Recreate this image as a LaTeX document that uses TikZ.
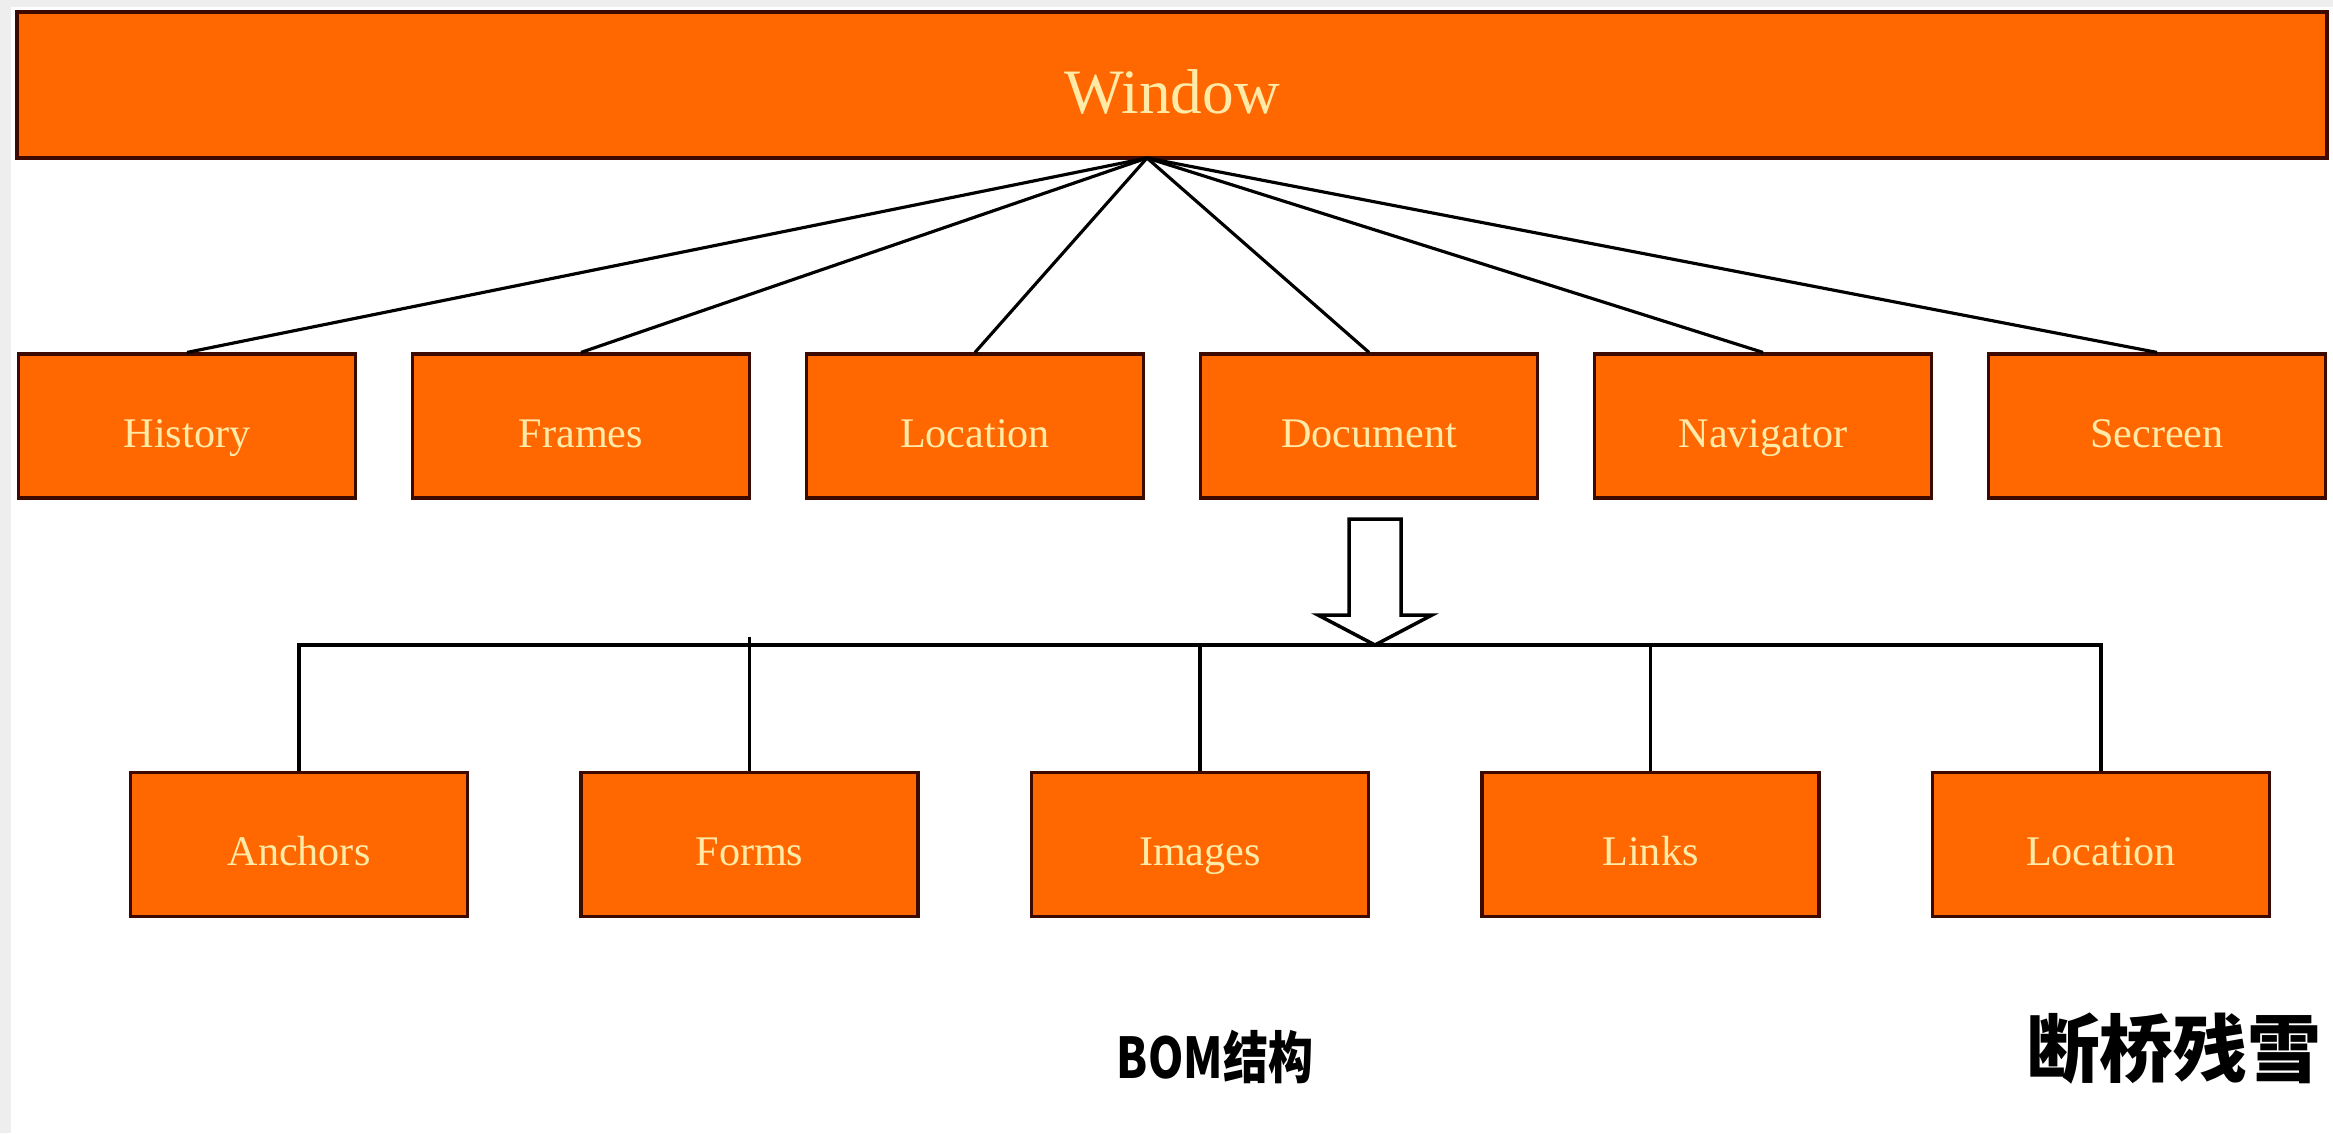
\documentclass[tikz,border=0pt]{standalone}
\usepackage{fontspec}
\setmainfont{Liberation Serif}
\newfontfamily\cjk{Noto Sans CJK SC}
\newfontfamily\cjknarrow[FakeStretch=0.8]{Noto Sans CJK SC}
\usetikzlibrary{calc}

\definecolor{boxorange}{RGB}{255,104,0}
\definecolor{boxedge}{RGB}{60,10,0}
\definecolor{labelcream}{RGB}{255,234,168}
\definecolor{framegray}{RGB}{238,238,238}

\tikzset{
	objbox/.style={draw=boxedge, fill=boxorange, line width=0.9pt, minimum width=33.7mm, minimum height=14.4mm, inner sep=0pt, text=labelcream, text height=12pt, text depth=0pt, font=\fontsize{12}{14}\selectfont},
	link/.style={line width=0.9pt, black}
}

\begin{document}
\begin{tikzpicture}[x=0.1mm,y=-0.1mm]
			% frame of the page
			\fill[framegray] (0,0) rectangle (2333,1133);
			\fill[white] (11,7) rectangle (2333,1133);
			\useasboundingbox (0,0) rectangle (2333,1133);

			\node[objbox, minimum width=231mm, minimum height=14.6mm, font=\fontsize{18}{20}\selectfont, text height=16pt] (win) at (1172,85) {Window};
			\coordinate (hub) at (1147,158);

			% first level
			\node[objbox] (his) at (187,426) {History};
			\node[objbox] (fra) at ($(his)+(394,0)$) {Frames};
			\node[objbox] (loc) at ($(fra)+(394,0)$) {Location};
			\node[objbox] (doc) at ($(loc)+(394,0)$) {Document};
			\node[objbox] (nav) at ($(doc)+(394,0)$) {Navigator};
			\node[objbox] (scr) at ($(nav)+(394,0)$) {Secreen};

			% second level (document)
			\node[objbox] (anc) at (299,844.5) {Anchors};
			\node[objbox] (frm) at ($(anc)+(450.5,0)$) {Forms};
			\node[objbox] (img) at ($(frm)+(450.5,0)$) {Images};
			\node[objbox] (lnk) at ($(img)+(450.5,0)$) {Links};
			\node[objbox] (loc2) at ($(lnk)+(450.5,0)$) {Location};
			\coordinate (bus) at (1375,645);

			\foreach \n in {his,fra,loc,doc,nav,scr}
				\draw[link] (hub) -- (\n.north);

			\draw[link] (anc.north) |- (bus) -| (loc2.north);
			\draw[link] (frm.north) -- ($(frm.north |- bus)+(0,-8)$);
			\foreach \n in {img,lnk}
				\draw[link] (\n.north) -- (\n.north |- bus);

			% hollow arrow
			\draw[line width=1pt, fill=white] ($(bus)+(-26,-126)$) -- ($(bus)+(26,-126)$) -- ($(bus)+(26,-30)$) -- ($(bus)+(57,-30)$) -- (bus) -- ($(bus)+(-57,-30)$) -- ($(bus)+(-26,-30)$) -- cycle;

			\node[font=\cjknarrow\bfseries\fontsize{16}{18}\selectfont] (cap) at (1215,1057) {BOM结构};
			\node[font=\cjk\bfseries\fontsize{21}{24}\selectfont, anchor=east, inner sep=0pt] (sig) at (2322,1049) {断桥残雪};

		\end{tikzpicture}
\end{document}
